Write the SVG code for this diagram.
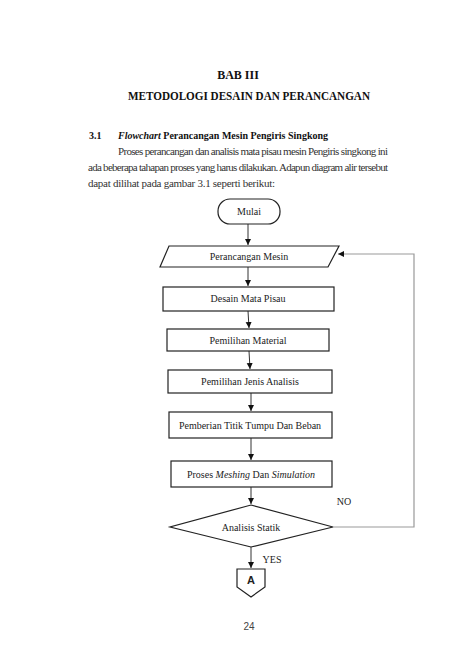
<svg xmlns="http://www.w3.org/2000/svg" width="474" height="670" viewBox="0 0 474 670">
<defs>
<marker id="ah" markerWidth="8" markerHeight="8" refX="6" refY="3" orient="auto" markerUnits="userSpaceOnUse">
<path d="M0,0 L6,3 L0,6 Z" fill="#111"/>
</marker>
<style>
.t{font-family:"Liberation Serif","Times New Roman",serif;fill:#222}
.h{font-weight:bold;font-size:12px;text-anchor:middle;fill:#111}
.s{font-weight:bold;font-size:10px;fill:#111}
.p{font-size:11px;fill:#333}
.n{font-size:10px;text-anchor:middle}
.box{fill:#fff;stroke:#222;stroke-width:1.2}
.c{fill:none;stroke:#333;stroke-width:1}
.fb{fill:none;stroke:#999;stroke-width:1.2}
</style>
</defs>
<rect width="474" height="670" fill="#fff"/>
<text class="t h" x="238" y="79">BAB III</text>
<text class="t h" x="249" y="100" textLength="242" lengthAdjust="spacingAndGlyphs">METODOLOGI DESAIN DAN PERANCANGAN</text>
<text class="t s" x="89" y="139" font-size="11">3.1</text>
<text class="t s" x="118" y="139"><tspan font-style="italic">Flowchart</tspan> Perancangan Mesin Pengiris Singkong</text>
<text class="t p" x="118" y="155" textLength="270" lengthAdjust="spacing">Proses perancangan dan analisis mata pisau mesin Pengiris singkong ini</text>
<text class="t p" x="88" y="171" textLength="300" lengthAdjust="spacing">ada beberapa tahapan proses yang harus dilakukan. Adapun diagram alir tersebut</text>
<text class="t p" x="88" y="187" textLength="187" lengthAdjust="spacing">dapat dilihat pada gambar 3.1 seperti berikut:</text>

<g id="connectors">
<line class="c" x1="248" y1="224" x2="248" y2="245" marker-end="url(#ah)"/>
<line class="c" x1="248" y1="267" x2="248" y2="286" marker-end="url(#ah)"/>
<line class="c" x1="248" y1="311" x2="249" y2="328" marker-end="url(#ah)"/>
<line class="c" x1="249" y1="351" x2="250" y2="369" marker-end="url(#ah)"/>
<line class="c" x1="251" y1="393" x2="251" y2="411" marker-end="url(#ah)"/>
<line class="c" x1="251" y1="438" x2="251" y2="460" marker-end="url(#ah)"/>
<line class="c" x1="251" y1="487" x2="251" y2="504" marker-end="url(#ah)"/>
<line class="c" x1="251" y1="547" x2="251" y2="568" marker-end="url(#ah)"/>
<polyline class="fb" points="333,527 414,527 414,254 338,254" marker-end="url(#ah)"/>
<text class="t n" x="344" y="505">NO</text>
<text class="t n" x="272" y="563">YES</text>
</g>

<g id="mulai">
<rect class="box" x="218" y="199" width="62" height="25" rx="12" ry="12"/>
<text class="t n" x="249" y="215">Mulai</text>
</g>
<g id="perancangan-mesin">
<polygon class="box" points="169,246 339,246 328,267 160,267"/>
<text class="t n" x="249" y="260">Perancangan Mesin</text>
</g>
<g id="desain-mata-pisau">
<rect class="box" x="163" y="287" width="171" height="24"/>
<text class="t n" x="248" y="302">Desain Mata Pisau</text>
</g>
<g id="pemilihan-material">
<rect class="box" x="167" y="329" width="162" height="22"/>
<text class="t n" x="248" y="344">Pemilihan Material</text>
</g>
<g id="pemilihan-jenis-analisis">
<rect class="box" x="168" y="370" width="164" height="23"/>
<text class="t n" x="250" y="385">Pemilihan Jenis Analisis</text>
</g>
<g id="pemberian-titik">
<rect class="box" x="169" y="412" width="163" height="26"/>
<text class="t n" x="250" y="429">Pemberian Titik Tumpu Dan Beban</text>
</g>
<g id="proses-meshing">
<rect class="box" x="171" y="461" width="161" height="26"/>
<text class="t n" x="251" y="478">Proses <tspan font-style="italic">Meshing</tspan> Dan <tspan font-style="italic">Simulation</tspan></text>
</g>
<g id="analisis-statik">
<polygon class="box" points="251,505 333,527 251,547 170,527"/>
<text class="t n" x="251" y="531">Analisis Statik</text>
</g>
<g id="connector-a">
<polygon class="box" points="237,569 265,569 265,587 251,597 237,587"/>
<text x="251" y="584" font-family="Liberation Sans, Arial, sans-serif" font-size="11" font-weight="bold" text-anchor="middle" fill="#222">A</text>
</g>
<text x="249" y="630" font-family="Liberation Sans, Arial, sans-serif" font-size="10" text-anchor="middle" fill="#444">24</text>
</svg>
